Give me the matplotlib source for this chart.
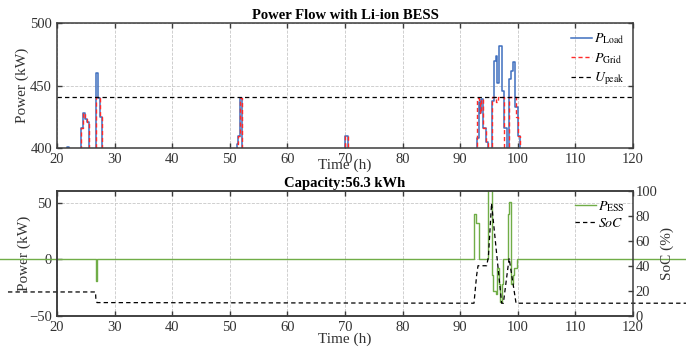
import matplotlib
matplotlib.use("Agg")
import matplotlib.pyplot as plt
from matplotlib.patches import Rectangle

# step series: value holds from each time until the next one
load_t = [10, 21.8, 22.1, 24.25, 24.55, 24.85, 25.25, 25.55, 26.7, 27.05, 27.45, 27.85,
          51.2, 51.45, 51.75, 52.1, 70.05, 70.6,
          92.95, 93.25, 93.45, 93.7, 94.05, 94.4, 94.75, 95.45, 95.85, 96.2, 96.45,
          96.75, 97.3, 97.6, 98.05, 98.5, 98.9, 99.2, 99.6, 100.1, 100.4, 130]
load_kw = [390, 401, 390, 416, 428, 423, 421, 390, 460, 440, 425, 390,
           403, 410, 440, 390, 410, 390,
           408, 437, 428, 439, 416, 405, 390, 438, 470, 474, 452,
           482, 446, 416, 390, 455, 462, 469, 433, 410, 390, 390]

grid_t = [10, 21.8, 22.1, 24.25, 24.55, 24.85, 25.25, 25.55, 26.7, 27.05, 27.45, 27.85,
          51.2, 51.45, 51.75, 52.1, 70.05, 70.6,
          92.95, 93.25, 93.45, 93.7, 94.05, 94.4, 94.75, 95.45, 96.3, 96.5,
          97.65, 98.5, 99.75, 100.1, 100.4, 130]
grid_kw = [390, 401, 390, 416, 428, 423, 421, 390, 441, 440, 425, 390,
           403, 410, 440, 390, 410, 390,
           440, 437, 428, 439, 416, 405, 390, 441, 437, 441,
           390, 441, 425, 410, 390, 390]

u_peak = 441

ess_t = [10, 26.75, 27.0, 92.4, 92.7, 93.2, 94.9, 95.45, 95.75, 96.15, 96.45, 96.7,
         97.0, 97.3, 97.5, 98.25, 98.5, 98.75, 99.1, 99.4, 99.8, 130]
ess_kw = [0, -19, 0, 40.5, 32, 0, 80, -14, -28, -31, -8, -22,
          -38, -22, 0, 40, 51, -22, -14, -8, 0, 0]

soc_t = [11.5, 26.7, 26.75, 26.95, 92.4, 92.85, 93.1, 94.6, 94.9, 95.45, 97.2, 97.5,
         98.5, 99.7, 130]
soc_pct = [19, 19, 14, 10.5, 10, 32, 40, 40, 47, 90, 10, 10, 46, 10, 10]

plt.rcParams["font.family"] = ["Liberation Serif", "DejaVu Serif"]
plt.rcParams["mathtext.fontset"] = "stix"
plt.rcParams["font.size"] = 9.5

spine_c = "#3c3c3c"
text_c = "#333333"
grid_style = dict(color="#c8c8c8", linestyle="--", linewidth=0.6)


def style_axes(ax, right_ticks=True):
    for s in ax.spines.values():
        s.set_color(spine_c)
        s.set_linewidth(1.1)
    ax.tick_params(direction="in", length=3.5, width=1.0, color=spine_c, labelcolor=text_c,
                   top=True, right=right_ticks, labelsize=10.5, pad=3.5)
    ax.grid(True, **grid_style)


fig = plt.figure(figsize=(6.86, 3.47), dpi=100)
ax1 = fig.add_axes([0.083, 0.5735, 0.8397, 0.360])
ax2 = fig.add_axes([0.083, 0.0902, 0.8397, 0.360])

# top panel
ax1.step(load_t, load_kw, where="post", color="#3f6fbf", lw=1.1, label=r"$P_{\mathrm{Load}}$")
ax1.step(grid_t, grid_kw, where="post", color="#ff2a2a", lw=1.0, ls="--", dashes=(3, 2),
         label=r"$P_{\mathrm{Grid}}$")
ax1.axhline(u_peak, color="black", lw=0.9, ls="--", dashes=(3.5, 2.5), label=r"$U_{\mathrm{peak}}$")
ax1.set_xlim(20, 120)
ax1.set_ylim(400, 500)
ax1.set_xticks(range(20, 121, 10))
ax1.set_yticks([400, 450, 500])
ax1.set_xlabel("Time (h)", fontsize=11, labelpad=-5, color=text_c)
ax1.set_ylabel("Power (kW)", fontsize=11, labelpad=1, color=text_c)
ax1.set_title("Power Flow with Li-ion BESS", fontsize=10.5, fontweight="bold", pad=3)
style_axes(ax1)
ax1.legend(loc="upper right", frameon=False, fontsize=10, handlelength=1.5,
           handletextpad=0.15, labelspacing=0.35, borderaxespad=0.2)

# bottom panel: lines run past the axes sideways, but not above/below
band = Rectangle((0, 0.0902), 1, 0.360, transform=fig.transFigure, visible=False)
fig.add_artist(band)
ess_line, = ax2.step(ess_t, ess_kw, where="post", color="#70ad47", lw=1.0,
                     label=r"$P_{\mathrm{ESS}}$")
ess_line.set_clip_path(band)
ax2.set_xlim(20, 120)
ax2.set_ylim(-50, 61)
ax2.set_xticks(range(20, 121, 10))
ax2.set_yticks([-50, 0, 50])
ax2.set_xlabel("Time (h)", fontsize=11, labelpad=-1, color=text_c)
ax2.set_ylabel("Power (kW)", fontsize=11, labelpad=-1, color=text_c)
ax2.set_title("Capacity:56.3 kWh", fontsize=10.5, fontweight="bold", pad=3)
style_axes(ax2, right_ticks=False)
ax2.spines["right"].set_visible(False)

ax3 = ax2.twinx()
soc_line, = ax3.plot(soc_t, soc_pct, color="black", lw=0.9, ls="--", dashes=(3.5, 2.5),
                     label=r"$SoC$")
soc_line.set_clip_path(band)
ax3.set_ylim(0, 100)
ax3.set_yticks(range(0, 101, 20))
ax3.set_ylabel("SoC (%)", fontsize=11, labelpad=2, color=text_c)
for s in ax3.spines.values():
    s.set_color(spine_c)
    s.set_linewidth(1.1)
ax3.tick_params(direction="in", length=3.5, width=1.0, color=spine_c, labelcolor=text_c,
                labelsize=10.5, pad=2)

h2, l2 = ax2.get_legend_handles_labels()
h3, l3 = ax3.get_legend_handles_labels()
ax3.legend(h2 + h3, l2 + l3, loc="upper right", frameon=False, fontsize=10,
           handlelength=1.5, handletextpad=0.15, labelspacing=0.2, borderaxespad=0.2)

fig.savefig("out.png", dpi=100)
